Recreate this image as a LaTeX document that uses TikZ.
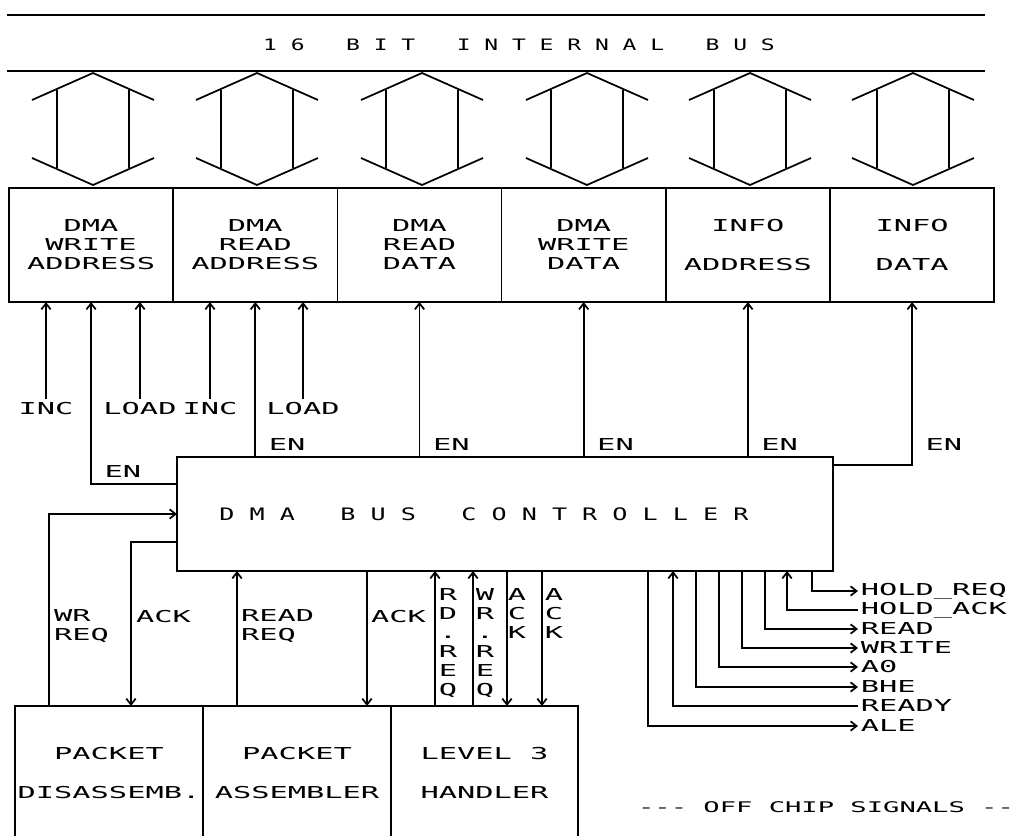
\documentclass[tikz,border=0pt]{standalone}
\usepackage{fontspec}
\newfontfamily\plotfont[FakeStretch=1.85]{DejaVu Sans Mono}
\newfontfamily\ctlfont[FakeStretch=1.46]{DejaVu Sans Mono}
\usetikzlibrary{arrows.meta,calc}

\tikzset{
  plottext/.style={font=\fontsize{12.3pt}{14.25pt}\plotfont, inner sep=2.5pt},
  regbox/.style={draw, plottext, align=center, inner sep=0pt, outer sep=0pt,
    minimum width=123.15pt, minimum height=85.5pt},
  pktbox/.style={draw, plottext, align=center, inner sep=0pt, outer sep=0pt,
    minimum height=100.5pt},
  enlbl/.style={plottext, anchor=south west, xshift=7pt, yshift=1.5pt},
  siglbl/.style={plottext, anchor=west, inner sep=1.5pt},
  vstack/.style={plottext, anchor=north, align=center, inner sep=0pt},
  sigout/.style={->},
  sigin/.style={<-},
}

\begin{document}
\begin{tikzpicture}[x=0.75pt, y=-0.75pt, line width=1.3pt,
  >={Straight Barb[length=4.5pt,width=7pt]}]
\clip (0,0) rectangle (1019,835);
% internal bus
\draw (7,15) -- (985,15);
\draw (7,71) -- (985,71);
\node[font=\fontsize{11.8pt}{13pt}\ctlfont] (bus) at (519,45)
  {1~6~~~B~I~T~~~I~N~T~E~R~N~A~L~~~B~U~S};
\foreach \c in {93,257,422,587,750,913} {
  \draw (\c-61,100) -- (\c,73) -- (\c+61,100);
  \draw (\c-61,158) -- (\c,185) -- (\c+61,158);
  \draw (\c-36,90) -- (\c-36,168);
  \draw (\c+36,90) -- (\c+36,168);
}

% registers
\node[regbox] (wra) at (91.1,245) {DMA\\WRITE\\ADDRESS};
\node[regbox] (rda) at (255.3,245) {DMA\\READ\\ADDRESS};
\node[regbox] (rdd) at (419.5,245) {DMA\\READ\\DATA};
\node[regbox] (wrd) at (583.7,245) {DMA\\WRITE\\DATA};
\node[regbox] (ifa) at (747.9,245) {INFO\\[15pt]ADDRESS};
\node[regbox] (ifd) at (912.1,245) {INFO\\[15pt]DATA};

% controller
\node[draw, outer sep=0pt, minimum width=492pt, minimum height=85.5pt] (ctl) at (505,514) {};
\node[font=\fontsize{12.9pt}{14pt}\ctlfont] (ctltxt) at (484,514)
  {D~M~A~~~B~U~S~~~C~O~N~T~R~O~L~L~E~R};

\node[plottext] (inc1) at (46,409) {INC};
\node[plottext] (ld1) at (140,409) {LOAD};
\node[plottext] (inc2) at (210,409) {INC};
\node[plottext] (ld2) at (303,409) {LOAD};
\foreach \l in {inc1,ld1,inc2,ld2}
  \draw[->] (\l.north) -- (\l.north |- wra.south);

\draw[->] ([yshift=-20.25pt]ctl.north west) -| node[enlbl, pos=0.5] (enwra) {EN} (wra.south);
\foreach \n in {rda,rdd,wrd,ifa}
  \draw[->] (\n.south |- ctl.north) -- node[enlbl, pos=0] (en\n) {EN} (\n.south);
\draw[->] ([yshift=-6pt]ctl.north east) -| node[enlbl, pos=0.5, yshift=6pt] (enifd) {EN} (ifd.south);

% packet blocks
\node[pktbox, minimum width=141pt] (pd) at (109,773) {PACKET\\[15pt]DISASSEMB.};
\node[pktbox, minimum width=141pt] (pa) at (297,773) {PACKET\\[15pt]ASSEMBLER};
\node[pktbox, minimum width=140.25pt] (lv) at (484.5,773) {LEVEL 3\\[15pt]HANDLER};

\coordinate (wrq) at ($(pd.north west)+(34,0)$);
\coordinate (ack1) at ($(pd.north west)+(116,0)$);
\coordinate (rdrq) at ($(pa.north west)+(34,0)$);
\coordinate (ack2) at ($(pa.north west)+(164,0)$);
\coordinate (rdq) at ($(lv.north west)+(44,0)$);
\coordinate (wrq2) at ($(lv.north west)+(82,0)$);
\coordinate (ack3) at ($(lv.north west)+(116,0)$);
\coordinate (ack4) at ($(lv.north west)+(151,0)$);

\draw[->] (wrq) |- (ctl.west);
\draw[->] ([yshift=-63.75pt]ctl.north west) -| (ack1);
\draw[->] (rdrq) -- (rdrq |- ctl.south);
\draw[->] (ack2 |- ctl.south) -- (ack2);
\draw[->] (rdq) -- (rdq |- ctl.south);
\draw[->] (wrq2) -- (wrq2 |- ctl.south);
\draw[->] (ack3 |- ctl.south) -- (ack3);
\draw[->] (ack4 |- ctl.south) -- (ack4);

\node[plottext, anchor=west, align=left] (wrqlbl) at (50,626) {WR\\REQ};
\node[plottext, anchor=west] (ack1lbl) at (132,617) {ACK};
\node[plottext, anchor=west, align=left] (rdrqlbl) at (237,626) {READ\\REQ};
\node[plottext, anchor=west] (ack2lbl) at (367,617) {ACK};
\node[vstack] (rdqlbl) at (448,588) {R\\D\\.\\R\\E\\Q};
\node[vstack] (wrq2lbl) at (485,588) {W\\R\\.\\R\\E\\Q};
\node[vstack] (ack3lbl) at (517,588) {A\\C\\K};
\node[vstack] (ack4lbl) at (554,588) {A\\C\\K};

% off chip signals
\foreach \x/\y/\t/\a [count=\i] in {812/591/HOLD\_REQ/sigout, 787/610/HOLD\_ACK/sigin,
    765/629/READ/sigout, 742/648/WRITE/sigout, 719/667/A0/sigout, 696/687/BHE/sigout,
    673/706/READY/sigin, 648/726/ALE/sigout} {
  \node[siglbl] (sig\i) at (858,\y) {\t};
  \draw[\a] (ctl.south -| \x,0) |- (sig\i.west);
}
\node[font=\fontsize{11pt}{13pt}\plotfont] (offchip) at (826,807) {-{}-{}- OFF CHIP SIGNALS -{}-};
\end{tikzpicture}
\end{document}
